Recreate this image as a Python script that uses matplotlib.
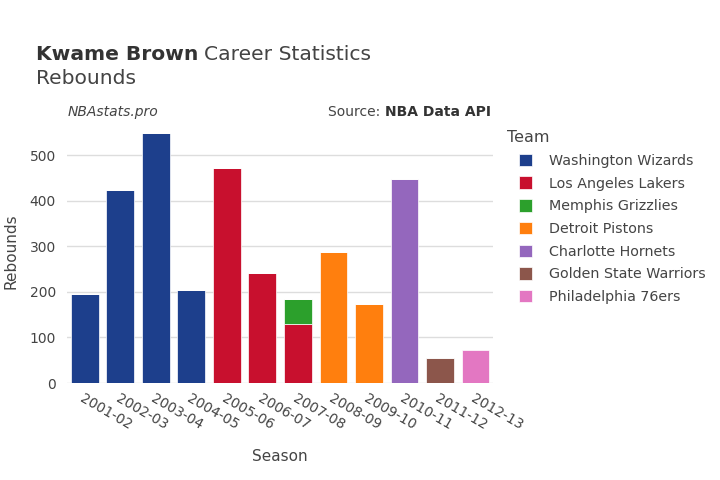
import matplotlib.pyplot as plt
import numpy as np

# Kwame Brown rebounds per season, split by team
seasons = ["2001-02", "2002-03", "2003-04", "2004-05", "2005-06", "2006-07",
           "2007-08", "2008-09", "2009-10", "2010-11", "2011-12", "2012-13"]
teams = ["Washington Wizards", "Los Angeles Lakers", "Memphis Grizzlies",
         "Detroit Pistons", "Charlotte Hornets", "Golden State Warriors",
         "Philadelphia 76ers"]
team_colors = ["#1d3f8c", "#c8102e", "#2ca02c", "#ff7f0e", "#9467bd",
               "#8c564b", "#e377c2"]

wizards = [195, 423, 548, 203, 0, 0, 0, 0, 0, 0, 0, 0]
lakers = [0, 0, 0, 0, 471, 242, 130, 0, 0, 0, 0, 0]
grizzlies = [0, 0, 0, 0, 0, 0, 55, 0, 0, 0, 0, 0]
pistons = [0, 0, 0, 0, 0, 0, 0, 288, 174, 0, 0, 0]
hornets = [0, 0, 0, 0, 0, 0, 0, 0, 0, 448, 0, 0]
warriors = [0, 0, 0, 0, 0, 0, 0, 0, 0, 0, 54, 0]
sixers = [0, 0, 0, 0, 0, 0, 0, 0, 0, 0, 0, 72]
team_values = [wizards, lakers, grizzlies, pistons, hornets, warriors, sixers]

plt.rcParams['font.family'] = ['DejaVu Sans']
text_color = "#444444"

fig = plt.figure(figsize=(7.2, 4.8), dpi=100)
ax = fig.add_axes([0.093, 0.202, 0.592, 0.548])

x = np.arange(len(seasons))
bottom = np.zeros(len(seasons))
for name, vals, col in zip(teams, team_values, team_colors):
    vals = np.array(vals, dtype=float)
    ax.bar(x, vals, width=0.78, bottom=bottom, color=col, label=name,
           edgecolor="white", linewidth=0.5, zorder=3)
    bottom += vals

ax.set_xlim(-0.5, len(seasons) - 0.5)
ax.set_ylim(0, 577)
ax.set_yticks([0, 100, 200, 300, 400, 500])
ax.grid(axis='y', color="#dddddd", linewidth=1, zorder=0)
for s in ax.spines.values():
    s.set_visible(False)
ax.tick_params(axis='both', length=0, colors=text_color, labelsize=10)
ax.set_xticks(x)
ax.set_xticklabels(seasons, rotation=-30, ha='left', va='top',
                   rotation_mode='anchor')
ax.tick_params(axis='x', pad=6)
ax.tick_params(axis='y', pad=8)

ax.set_ylabel("Rebounds", color=text_color, fontsize=11)
ax.yaxis.set_label_coords(-0.113, 0.5)
ax.set_xlabel("Season", color=text_color, fontsize=11, labelpad=12)

t1 = fig.text(0.05, 0.875, "Kwame Brown", fontsize=14.6, fontweight='bold',
              color="#333333", va='baseline')
fig.canvas.draw()
b1 = t1.get_window_extent()
fig.text(b1.x1 / fig.bbox.width + 0.008, 0.875, "Career Statistics",
         fontsize=14.6, color="#444444", va='baseline')
fig.text(0.05, 0.825, "Rebounds", fontsize=14.6, color="#444444",
         va='baseline')

fig.text(0.094, 0.752, "NBAstats.pro", fontsize=10, style='italic',
         color=text_color, va='bottom')
src_lbl = fig.text(0.682, 0.752, "Source: ", fontsize=10, color=text_color,
                   va='bottom', ha='right')
src = fig.text(0.682, 0.752, "NBA Data API", fontsize=10, fontweight='bold',
               color="#333333", va='bottom', ha='right')
fig.canvas.draw()
bb = src.get_window_extent()
src_lbl.set_x(bb.x0 / fig.bbox.width)

leg = ax.legend(title="Team", loc='upper left', bbox_to_anchor=(1.03, 1.01),
                frameon=False, fontsize=10.3, title_fontsize=11.5,
                handlelength=0.95, handleheight=0.95, labelspacing=0.6,
                handletextpad=1.15, labelcolor=text_color)
leg.get_title().set_color(text_color)
leg._legend_box.align = "left"
leg.get_title().set_position((-12, 0))

fig.savefig("out.png", dpi=100)
